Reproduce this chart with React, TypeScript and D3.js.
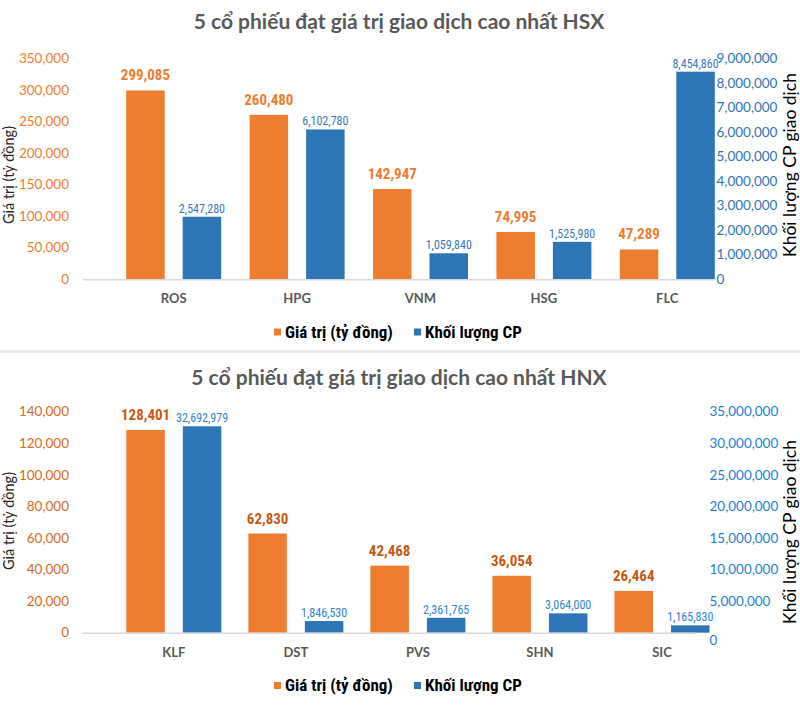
import React from "react";
import * as d3 from "d3";

const hsxCategories = ["ROS", "HPG", "VNM", "HSG", "FLC"];
const hsxValue = [299085, 260480, 142947, 74995, 47289];
const hsxVolume = [2547280, 6102780, 1059840, 1525980, 8454860];
const hsxLeftTicks = [0, 50000, 100000, 150000, 200000, 250000, 300000, 350000];
const hsxRightTicks = [0, 1000000, 2000000, 3000000, 4000000, 5000000, 6000000, 7000000, 8000000, 9000000];

const hnxCategories = ["KLF", "DST", "PVS", "SHN", "SIC"];
const hnxValue = [128401, 62830, 42468, 36054, 26464];
const hnxVolume = [32692979, 1846530, 2361765, 3064000, 1165830];
const hnxLeftTicks = [0, 20000, 40000, 60000, 80000, 100000, 120000, 140000];
const hnxRightTicks = [0, 5000000, 10000000, 15000000, 20000000, 25000000, 30000000, 35000000];

const ORANGE = "#ED7D31";
const BLUE = "#2E75B6";
const fmt = d3.format(",");
const NARROW = "'Liberation Sans Narrow', 'Arial Narrow', 'Roboto Condensed', Roboto, sans-serif";
const CAL = "Lato, 'Open Sans', sans-serif";

type ChartProps = {
  title: string;
  titleY: number;
  categories: string[];
  values: number[];
  volumes: number[];
  leftTicks: number[];
  rightTicks: number[];
  yTop: number;
  yBase: number;
  xRange: [number, number];
  baseRight: number;
  leftColor: string;
  rightColor: string;
  valueLabelColor: string;
  volLabelColor: string;
  catY: number;
  legendY: number;
  axisTitleY: number;
  rightTitleY: number;
  rightLabelX: number;
  zeroDy: number;
};

function Chart(p: ChartProps) {
  const x = d3.scaleBand<string>().domain(p.categories).range(p.xRange).paddingInner(0).paddingOuter(0);
  const yL = d3.scaleLinear().domain([0, p.leftTicks[p.leftTicks.length - 1]]).range([p.yBase, p.yTop]);
  const yR = d3.scaleLinear().domain([0, p.rightTicks[p.rightTicks.length - 1]]).range([p.yBase, p.yTop]);
  const barW = 38.5;
  const gap = 18;
  return (
    <g>
      <text x={399} y={p.titleY} textAnchor="middle" fontFamily={CAL} fontWeight={700} fontSize={21} fill="#595959">
        {p.title}
      </text>
      {p.leftTicks.map((t) => (
        <text key={"l" + t} x={69} y={yL(t)} dy="0.35em" textAnchor="end" fontFamily={CAL} fontSize={13.5} fill={p.leftColor}>
          {fmt(t)}
        </text>
      ))}
      {p.rightTicks.map((t) => (
        <text key={"r" + t} x={p.rightLabelX} y={yR(t) + (t === 0 ? p.zeroDy : 0)} dy="0.35em" textAnchor="start" fontFamily={CAL} fontSize={13.5} fill={p.rightColor}>
          {fmt(t)}
        </text>
      ))}
      <text transform={`translate(14,${p.axisTitleY}) rotate(-90)`} textAnchor="middle" fontFamily={CAL} fontSize={14.5} fill="#262626">
        Giá trị (tỷ đồng)
      </text>
      <text transform={`translate(796,${p.rightTitleY}) rotate(-90)`} textAnchor="middle" fontFamily={CAL} fontSize={17.5} fill="#000">
        Khối lượng CP giao dịch
      </text>
      {p.categories.map((c, i) => {
        const cx = (x(c) as number) + x.bandwidth() / 2;
        const ox = cx - gap / 2 - barW;
        const bx = cx + gap / 2;
        const v = p.values[i];
        const w = p.volumes[i];
        return (
          <g key={c}>
            <rect x={ox} y={yL(v)} width={barW} height={p.yBase - yL(v)} fill={ORANGE} />
            <rect x={bx} y={yR(w)} width={barW} height={p.yBase - yR(w)} fill={BLUE} />
            <text x={ox + barW / 2} y={yL(v) - 10} textAnchor="middle" fontFamily={NARROW} fontWeight={700} fontSize={15} fill={p.valueLabelColor}>
              {fmt(v)}
            </text>
            <text x={bx + barW / 2} y={yR(w) - 4} textAnchor="middle" fontFamily={NARROW} fontSize={12} fill={p.volLabelColor}>
              {fmt(w)}
            </text>
            <text x={cx} y={p.catY} dy="0.35em" textAnchor="middle" fontFamily={CAL} fontWeight={700} fontSize={13} fill="#595959">
              {c}
            </text>
          </g>
        );
      })}
      <line x1={83} x2={p.baseRight} y1={p.yBase + 0.5} y2={p.yBase + 0.5} stroke="#d9d9d9" strokeWidth={1.5} />
      <g fontFamily={NARROW} fontSize={17} fontWeight={700} fill="#000">
        <rect x={274} y={p.legendY - 3.5} width={7} height={7} fill={ORANGE} />
        <text x={285} y={p.legendY} dy="0.35em">Giá trị (tỷ đồng)</text>
        <rect x={414} y={p.legendY - 3.5} width={7} height={7} fill={BLUE} />
        <text x={425} y={p.legendY} dy="0.35em">Khối lượng CP</text>
      </g>
    </g>
  );
}

export default function App() {
  return (
    <svg width={800} height={705} style={{ position: "absolute", left: 0, top: 0, background: "#fff" }}>
      <rect x={0} y={0} width={800} height={705} fill="#fff" />
      <Chart
        title="5 cổ phiếu đạt giá trị giao dịch cao nhất HSX"
        titleY={29}
        categories={hsxCategories}
        values={hsxValue}
        volumes={hsxVolume}
        leftTicks={hsxLeftTicks}
        rightTicks={hsxRightTicks}
        yTop={58.3}
        yBase={279.3}
        xRange={[112, 729]}
        baseRight={716}
        leftColor={ORANGE}
        rightColor={BLUE}
        valueLabelColor={ORANGE}
        volLabelColor="#3A78BE"
        catY={298}
        legendY={332}
        axisTitleY={175}
        rightTitleY={165}
        rightLabelX={716.5}
        zeroDy={0}
      />
      <line x1={0} x2={800} y1={351.5} y2={351.5} stroke="#e6e6e6" strokeWidth={2.5} />
      <Chart
        title="5 cổ phiếu đạt giá trị giao dịch cao nhất HNX"
        titleY={385}
        categories={hnxCategories}
        values={hnxValue}
        volumes={hnxVolume}
        leftTicks={hnxLeftTicks}
        rightTicks={hnxRightTicks}
        yTop={411.7}
        yBase={632.7}
        xRange={[112.8, 723]}
        baseRight={697}
        leftColor="#D9691E"
        rightColor="#1F7FD0"
        valueLabelColor="#C55A11"
        volLabelColor="#2E86D0"
        catY={652}
        legendY={685.5}
        axisTitleY={521}
        rightTitleY={532}
        rightLabelX={709.5}
        zeroDy={8}
      />
    </svg>
  );
}
